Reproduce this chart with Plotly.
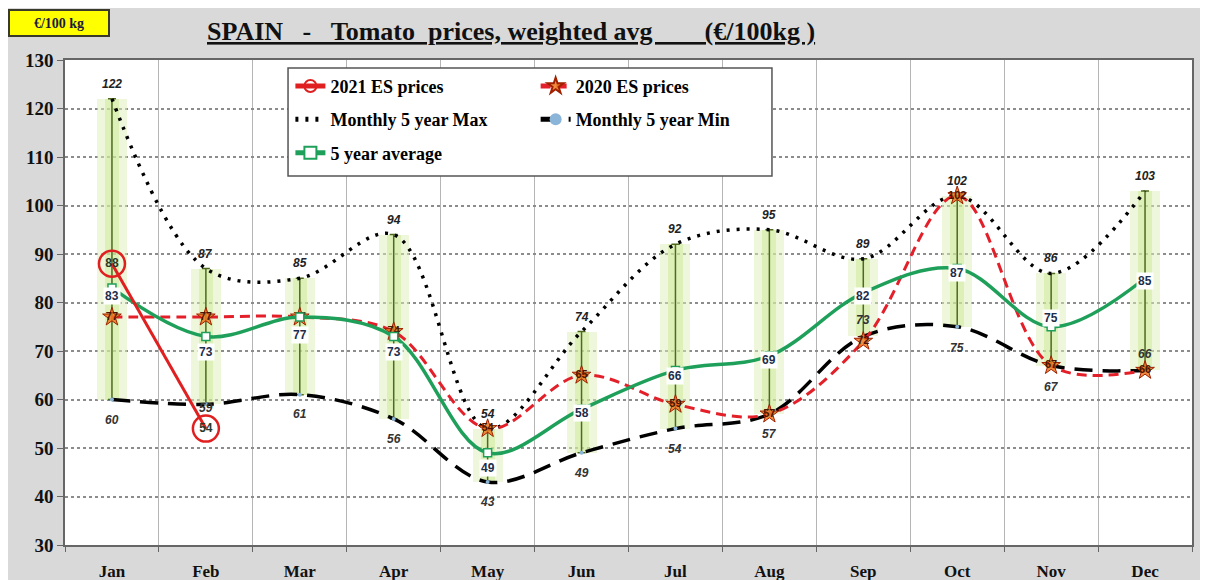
import plotly.graph_objects as go

# ---------------- data ----------------
months = ["Jan", "Feb", "Mar", "Apr", "May", "Jun", "Jul", "Aug", "Sep", "Oct", "Nov", "Dec"]
max5 = [122, 87, 85, 94, 54, 74, 92, 95, 89, 102, 86, 103]
min5 = [60, 59, 61, 56, 43, 49, 54, 57, 73, 75, 67, 66]
avg5 = [83, 73, 77, 73, 49, 58, 66, 69, 82, 87, 75, 85]
es2020 = [77, 77, 77, 74, 54, 65, 59, 57, 72, 102, 67, 66]
es2021 = [88, 54]

# label offsets (pixels) – styling only
avg_shift = [-8, -16, -18, -16, -15, -4, -6, -4, -3, -4, 9, -3]
min_shift = [-20, -4, -19, -20, -20, -20, -20, -20, 16, -21, -21, 16]

x = list(range(len(months)))
SERIF = "Liberation Serif"
SANS = "Liberation Sans"

fig = go.Figure()

# green glow bands (min -> max)
span = [mx - mn for mx, mn in zip(max5, min5)]
fig.add_trace(go.Bar(x=x, y=span, base=min5, width=0.32,
                     marker=dict(color="rgba(222,240,185,0.5)", line=dict(width=0)),
                     showlegend=False, hoverinfo="skip"))
fig.add_trace(go.Bar(x=x, y=span, base=min5, width=0.15,
                     marker=dict(color="rgba(200,230,140,0.45)", line=dict(width=0)),
                     showlegend=False, hoverinfo="skip"))

# high-low line
fig.add_trace(go.Scatter(x=x, y=min5, mode="markers", marker=dict(size=1, opacity=0),
                         error_y=dict(type="data", symmetric=False, array=span,
                                      arrayminus=[0] * len(span), color="#4d6a1f",
                                      thickness=1.5, width=4),
                         showlegend=False, hoverinfo="skip"))

# Monthly 5 year Min
fig.add_trace(go.Scatter(x=x, y=min5, mode="lines+markers", name="Monthly 5 year Min",
                         line=dict(color="black", width=3.5, dash="18px,10px", shape="spline"),
                         marker=dict(size=4, color="#8ab4d8"),
                         legend="legend2", legendgroup="min", legendrank=2))

# Monthly 5 year Max
fig.add_trace(go.Scatter(x=x, y=max5, mode="lines", name="Monthly 5 year Max",
                         line=dict(color="black", width=3.5, dash="3px,7px", shape="spline"),
                         legend="legend", legendgroup="max", legendrank=2))

# 2020 ES prices
fig.add_trace(go.Scatter(x=x, y=es2020, mode="lines+markers+text", name="2020 ES prices",
                         line=dict(color="#e3202a", width=3, dash="10px,6px", shape="spline"),
                         marker=dict(symbol="star", size=14, color="rgba(236,120,30,0.85)",
                                     line=dict(color="#a02000", width=1)),
                         text=[str(v) for v in es2020], textposition="middle center",
                         textfont=dict(family=SANS, size=11, color="#4a1500", weight="bold"),
                         legend="legend2", legendgroup="e2020", legendrank=1))

# 5 year average
fig.add_trace(go.Scatter(x=x, y=avg5, mode="lines+markers", name="5 year average",
                         line=dict(color="#1fa05a", width=3.5, shape="spline"),
                         marker=dict(symbol="square", size=8, color="white",
                                     line=dict(color="#1fa05a", width=1.5)),
                         legend="legend", legendgroup="avg", legendrank=3))

# 2021 ES prices
fig.add_trace(go.Scatter(x=x[:len(es2021)], y=es2021, mode="lines+markers+text",
                         name="2021 ES prices",
                         line=dict(color="#e02020", width=3),
                         marker=dict(symbol="circle-open", size=26,
                                     line=dict(color="#e04020", width=2.5)),
                         text=[str(v) for v in es2021], textposition="middle center",
                         textfont=dict(family=SANS, size=12, color="#2a3a2a", weight="bold"),
                         legend="legend", legendgroup="e2021", legendrank=1))

annotations = []
for i, v in enumerate(max5):
    annotations.append(dict(x=i, y=v, xref="x", yref="y", text=str(v), showarrow=False,
                            yshift=15, font=dict(family=SANS, size=12, color="#222",
                                                 weight="bold", style="italic")))
for i, v in enumerate(min5):
    annotations.append(dict(x=i, y=v, xref="x", yref="y", text=str(v), showarrow=False,
                            yshift=min_shift[i], font=dict(family=SANS, size=12, color="#333",
                                                           weight="bold", style="italic")))
for i, v in enumerate(avg5):
    annotations.append(dict(x=i, y=v, xref="x", yref="y", text=str(v), showarrow=False,
                            yshift=avg_shift[i], bgcolor="white", borderpad=1,
                            font=dict(family=SANS, size=12, color="#1c2e4a", weight="bold")))

NB = "\u00a0"
title_text = ("SPAIN" + NB * 3 + "-" + NB * 3 + "Tomato" + NB * 2 + "prices, weighted avg"
              + NB * 8 + "(€/100kg )")
annotations.append(dict(xref="paper", yref="paper", x=0.396, y=1.058, text="<u>" + title_text + "</u>",
                        showarrow=False, xanchor="center", yanchor="middle",
                        font=dict(family=SERIF, size=26, color="#111", weight="bold")))
annotations.append(dict(xref="paper", yref="paper", x=-0.0053, y=1.0763, text="€/100 kg",
                        showarrow=False, xanchor="center", yanchor="middle",
                        width=94, height=20, bgcolor="#ffff00", bordercolor="#3a3a2a",
                        borderwidth=2, borderpad=2,
                        font=dict(family=SERIF, size=14, color="#1a1a40", weight="bold")))

shapes = [
    # legend box
    dict(type="rect", xref="paper", yref="paper", x0=0.1979, x1=0.6273, y0=0.7608,
         y1=0.9835, fillcolor="white", line=dict(color="#555", width=1.5), layer="above"),
]

legend_font = dict(family=SERIF, size=18, color="black", weight="bold")
fig.update_layout(
    width=1200, height=572,
    margin=dict(l=57, r=16, t=52, b=35),
    paper_bgcolor="#d9d9d9",
    plot_bgcolor="white",
    barmode="overlay",
    bargap=0,
    showlegend=True,
    legend=dict(x=0.2, y=0.984, xanchor="left", yanchor="top", bgcolor="rgba(0,0,0,0)",
                font=legend_font, tracegroupgap=7, itemsizing="constant", itemwidth=30),
    legend2=dict(x=0.4176, y=0.984, xanchor="left", yanchor="top", bgcolor="rgba(0,0,0,0)",
                 font=legend_font, tracegroupgap=7, itemsizing="constant", itemwidth=30),
    annotations=annotations,
    shapes=shapes,
    xaxis=dict(range=[-0.5, 11.5], tickmode="array", tickvals=x, ticktext=months,
               showgrid=False, ticks="", ticklabelstandoff=10, automargin=False,
               tickfont=dict(family=SERIF, size=17, color="#111", weight="bold"),
               showline=True, linecolor="#666", linewidth=1.5, mirror=True, zeroline=False,
               minor=dict(tick0=0.5, dtick=1, showgrid=True, gridcolor="#b5b5b5", gridwidth=1,
                          ticks="outside", ticklen=5, tickcolor="#666")),
    yaxis=dict(range=[30, 130], dtick=10, tick0=30, showgrid=True, gridcolor="#8c8c8c",
               gridwidth=2, griddash="dot", ticks="outside", ticklen=6, tickcolor="#666",
               automargin=False,
               tickfont=dict(family=SERIF, size=19, color="#111", weight="bold"),
               showline=True, linecolor="#666", linewidth=1.5, mirror=True, zeroline=False),
)

fig.write_html("out.html")
